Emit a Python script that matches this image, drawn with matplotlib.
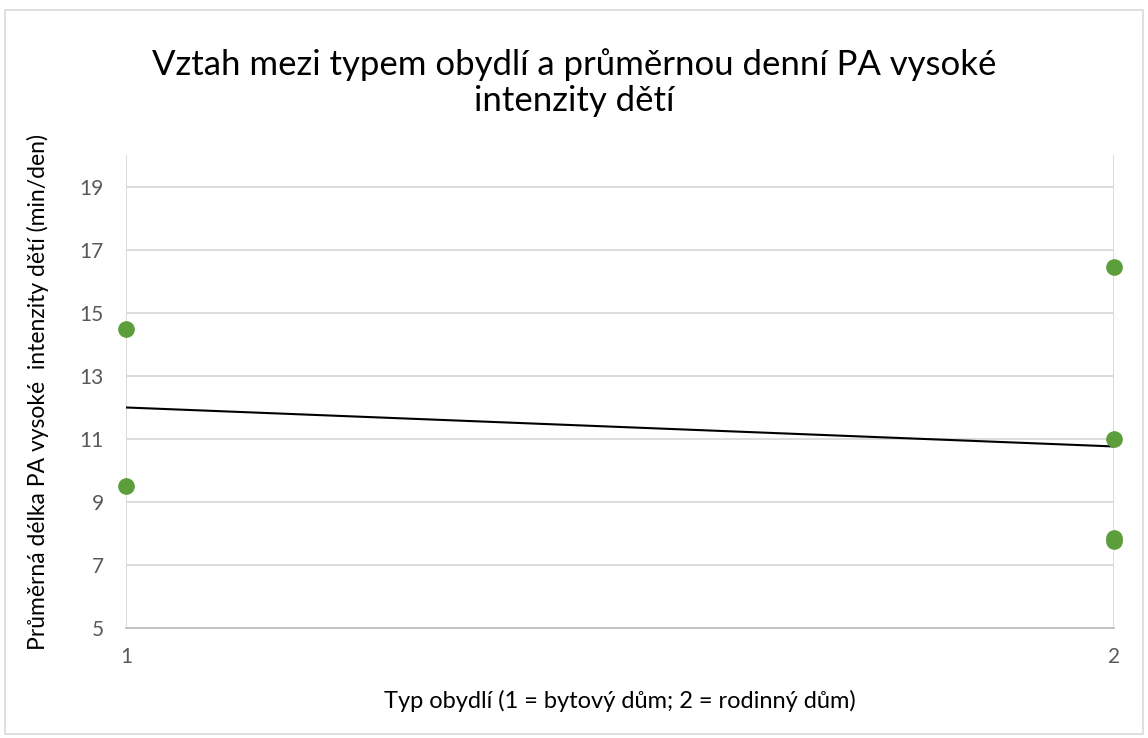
import numpy as np
import matplotlib
matplotlib.use('Agg')
import matplotlib.pyplot as plt
from matplotlib.patches import Rectangle

plt.rcParams['font.family'] = ['Lato', 'DejaVu Sans']

# data
typ = [1, 1, 2, 2, 2, 2]
pa_minutes = [14.5, 9.5, 16.45, 11.0, 7.75, 7.85]
y_ticks = [5, 7, 9, 11, 13, 15, 17, 19]
x_ticks = [1, 2]

fig = plt.figure(figsize=(11.48, 7.38), dpi=100)
fig.patches.append(Rectangle((0.004, 0.006), 0.992, 0.980, transform=fig.transFigure,
                             fill=False, edgecolor='#d9d9d9', linewidth=1.2))
ax = fig.add_axes([0.1098, 0.1491, 0.8606, 0.6402])

ax.set_xlim(1, 2)
ax.set_ylim(5, 20)
ax.set_yticks(y_ticks)
ax.set_xticks(x_ticks)
ax.grid(True, color='#d9d9d9', linewidth=1.3)
ax.set_axisbelow(True)
for s in ['top', 'right', 'left']:
    ax.spines[s].set_visible(False)
ax.spines['bottom'].set_color('#bfbfbf')
ax.spines['bottom'].set_linewidth(1.3)
ax.tick_params(length=0, labelsize=15, labelcolor='#595959', pad=14)
ax.tick_params(axis='y', pad=16)

# trendline (least squares)
k, q = np.polyfit(typ, pa_minutes, 1)
xs = np.array(x_ticks)
ax.plot(xs, k * xs + q, color='black', linewidth=1.5, zorder=2)

ax.plot(typ, pa_minutes, 'o', color='#5b9e3a', markersize=11, clip_on=False, zorder=3)

fig.text(0.5, 0.888, 'Vztah mezi typem obydlí a průměrnou denní PA vysoké\nintenzity dětí',
         ha='center', va='center', fontsize=25, color='black', linespacing=1.15)
ax.set_xlabel('Typ obydlí (1 = bytový dům; 2 = rodinný dům)', fontsize=17, labelpad=16)
ax.set_ylabel('Průměrná délka PA vysoké  intenzity dětí (min/den)', fontsize=16.5, labelpad=22)

plt.savefig('out.png', dpi=100)
